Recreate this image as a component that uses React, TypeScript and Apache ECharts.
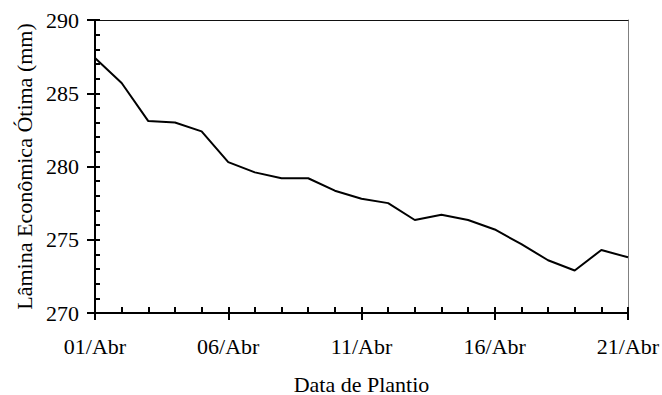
import React, { useEffect, useRef } from "react";
import * as echarts from "echarts";

const categories = [
  "01/Abr", "02/Abr", "03/Abr", "04/Abr", "05/Abr", "06/Abr", "07/Abr",
  "08/Abr", "09/Abr", "10/Abr", "11/Abr", "12/Abr", "13/Abr", "14/Abr",
  "15/Abr", "16/Abr", "17/Abr", "18/Abr", "19/Abr", "20/Abr", "21/Abr",
];
const laminaValues = [
  287.4, 285.7, 283.1, 283.0, 282.4, 280.3, 279.6, 279.2, 279.2, 278.35,
  277.8, 277.5, 276.35, 276.7, 276.35, 275.7, 274.7, 273.6, 272.9, 274.3, 273.8,
];
const yMin = 270;
const yMax = 290;
const yInterval = 5;
const xTitle = "Data de Plantio";
const yTitle = "Lâmina Econômica Ótima (mm)";

const FONT = '"Liberation Serif", "Times New Roman", serif';
const FS = 22;

export default function App() {
  const ref = useRef<HTMLDivElement>(null);
  useEffect(() => {
    if (!ref.current) return;
    const chart = echarts.init(ref.current, null, { renderer: "svg" });
    const black = "#000";
    chart.setOption({
      animation: false,
      backgroundColor: "#fff",
      grid: { left: 95, right: 34, top: 20, bottom: 82, containLabel: false, outerBoundsMode: "none" },
      xAxis: [
        {
          type: "category",
          data: categories,
          boundaryGap: false,
          position: "bottom",
          axisLine: { show: true, lineStyle: { color: black, width: 2 } },
          axisTick: { show: true, inside: true, length: 6, interval: 0, lineStyle: { color: black, width: 2 } },
          axisLabel: { interval: 4, margin: 22, color: black, fontFamily: FONT, fontSize: FS },
          splitLine: { show: false },
          name: xTitle,
          nameLocation: "middle",
          nameGap: 60,
          nameTextStyle: { color: black, fontFamily: FONT, fontSize: FS },
        },
        {
          type: "category",
          data: categories,
          boundaryGap: false,
          position: "bottom",
          axisLine: { show: false },
          axisTick: { show: true, inside: false, length: 7, interval: 4, lineStyle: { color: black, width: 2 } },
          axisLabel: { show: false },
          splitLine: { show: false },
        },
        {
          type: "category",
          data: categories,
          boundaryGap: false,
          position: "top",
          axisLine: { show: true, lineStyle: { color: "#111", width: 1 } },
          axisTick: { show: false },
          axisLabel: { show: false },
          splitLine: { show: false },
        },
      ],
      yAxis: [
        {
          type: "value",
          min: yMin,
          max: yMax,
          interval: yInterval,
          position: "left",
          axisLine: { show: true, lineStyle: { color: black, width: 2 } },
          axisTick: { show: true, inside: true, length: 5, lineStyle: { color: black, width: 2 } },
          minorTick: { show: true, splitNumber: 5, length: 5, lineStyle: { color: black, width: 2 } },
          axisLabel: { margin: 16, color: black, fontFamily: FONT, fontSize: FS },
          splitLine: { show: false },
          minorSplitLine: { show: false },
          name: yTitle,
          nameLocation: "middle",
          nameGap: 60,
          nameTextStyle: { color: black, fontFamily: FONT, fontSize: FS },
        },
        {
          type: "value",
          min: yMin,
          max: yMax,
          interval: yInterval,
          position: "left",
          axisLine: { show: false },
          axisTick: { show: true, inside: false, length: 8, lineStyle: { color: black, width: 2 } },
          axisLabel: { show: false },
          splitLine: { show: false },
        },
        {
          type: "value",
          min: yMin,
          max: yMax,
          interval: yInterval,
          position: "right",
          axisLine: { show: true, lineStyle: { color: "#808080", width: 1 } },
          axisTick: { show: false },
          axisLabel: { show: false },
          splitLine: { show: false },
        },
      ],
      series: [
        {
          type: "line",
          data: laminaValues,
          xAxisIndex: 0,
          yAxisIndex: 0,
          showSymbol: false,
          symbol: "none",
          lineStyle: { color: black, width: 2 },
        },
      ],
    });
    return () => chart.dispose();
  }, []);
  return (
    <div
      ref={ref}
      style={{ position: "fixed", left: 0, top: 0, width: 662, height: 395, background: "#fff" }}
    />
  );
}
